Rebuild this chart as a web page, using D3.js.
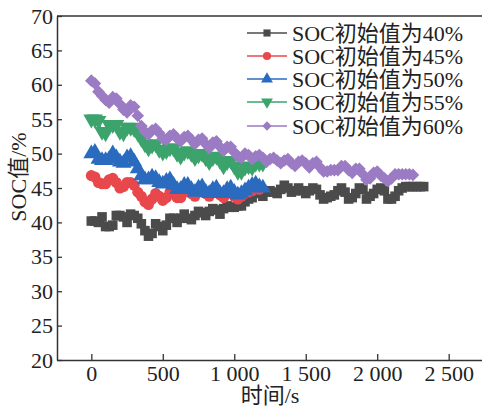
<!DOCTYPE html>
<html>
<head>
<meta charset="utf-8">
<script src="https://cdn.jsdelivr.net/npm/d3@7"></script>
<style>
  body { margin: 0; background: #fff; }
  text { font-family: "Liberation Serif", "Times New Roman", "Noto Sans CJK SC", serif; fill: #222; }
</style>
</head>
<body>
<svg id="chart" width="482" height="408"></svg>
<script>
// sampling step of the recorded SOC curves (s)
var step = 25;

var seriesNames = ["SOC初始值为40%", "SOC初始值为45%", "SOC初始值为50%", "SOC初始值为55%", "SOC初始值为60%"];
var colors = ["#4b4b4b", "#e8474c", "#2a6bbf", "#3ba36b", "#9b7bc3"];

// SOC values (%) every 25 s, starting at t = 0
var soc40 = [
  40.2, 40.2, 40.0, 40.8, 39.4, 39.4, 39.6, 41.0, 41.0, 40.8, 40.0, 41.2,
  41.0, 40.6, 39.8, 38.8, 38.0, 38.4, 39.8, 39.4, 38.8, 39.6, 40.6, 40.6,
  40.0, 40.6, 41.2, 40.6, 40.4, 41.0, 41.6, 41.4, 41.0, 41.6, 42.0, 41.8,
  41.2, 42.0, 42.4, 42.2, 42.2, 42.4, 42.4, 43.0, 43.4, 43.6, 44.4, 44.2,
  43.8, 44.4, 44.6, 44.4, 44.2, 44.8, 45.4, 45.0, 44.4, 44.6, 45.0, 44.6,
  44.2, 44.6, 45.0, 44.8, 44.0, 43.4, 43.6, 43.8, 44.0, 44.6, 45.0, 44.4,
  43.4, 43.6, 44.2, 45.0, 44.8, 43.4, 43.8, 44.2, 44.8, 45.0, 44.6, 43.4,
  43.4, 43.8, 44.6, 45.0, 45.2, 45.2, 45.2, 45.2, 45.2, 45.2
];
var soc45 = [
  46.8, 46.6, 45.8, 45.6, 45.6, 46.2, 46.4, 45.8, 45.0, 45.2, 45.8, 45.8,
  45.4, 44.4, 43.8, 43.0, 42.6, 43.4, 44.2, 43.8, 43.2, 43.6, 44.4, 44.2,
  43.6, 43.6, 44.4, 44.6, 44.2, 43.8, 44.4, 44.6, 44.2, 43.8, 44.4, 44.6,
  44.0, 43.6, 44.2, 44.4, 43.8, 43.4, 43.8, 44.2, 44.4, 44.6, 45.0, 44.8
];
var soc50 = [
  50.0, 50.2, 49.2, 49.0, 49.0, 49.2, 50.0, 49.4, 48.8, 48.6, 49.4, 49.6,
  48.8, 47.8, 46.8, 46.2, 46.2, 46.6, 46.4, 45.8, 45.6, 46.0, 46.2, 45.4,
  44.8, 44.8, 45.4, 45.4, 44.8, 44.4, 45.0, 45.2, 44.4, 44.2, 44.8, 45.0,
  44.2, 44.2, 44.8, 45.0, 44.4, 44.0, 44.2, 44.6, 45.0, 45.4, 45.6, 45.2, 45.0
];
var soc55 = [
  55.0, 55.0, 54.8, 53.2, 53.0, 54.2, 54.2, 54.2, 53.2, 53.0, 53.8, 53.8,
  53.6, 53.0, 52.2, 51.4, 50.8, 51.2, 51.4, 50.6, 50.2, 50.4, 50.8, 50.8,
  50.0, 49.6, 50.2, 50.4, 50.0, 49.4, 49.8, 50.0, 49.4, 48.8, 49.4, 49.6,
  49.0, 48.2, 48.8, 49.0, 48.2, 47.4, 47.4, 48.0, 48.2, 48.0, 48.6, 48.6, 48.6
];
var soc60 = [
  60.6, 60.2, 59.0, 58.4, 57.8, 57.4, 58.2, 58.0, 57.2, 56.4, 56.0, 57.0,
  56.8, 55.5, 54.0, 53.2, 52.8, 53.4, 53.6, 53.0, 52.2, 52.0, 52.6, 52.8,
  52.2, 51.8, 52.4, 52.6, 52.0, 51.4, 52.0, 52.2, 51.4, 50.8, 51.6, 51.8,
  51.0, 50.4, 51.0, 51.0, 50.2, 49.6, 49.4, 50.0, 49.8, 49.2, 49.6, 49.8,
  49.4, 48.8, 49.2, 49.4, 49.0, 48.6, 49.0, 49.2, 48.6, 48.2, 48.8, 49.0,
  48.6, 48.0, 48.6, 48.8, 48.0, 47.4, 47.4, 47.6, 47.6, 47.6, 48.2, 48.2,
  47.6, 47.2, 47.8, 47.8, 47.0, 46.2, 46.4, 47.2, 47.4, 46.8, 46.4, 46.0,
  46.4, 47.0, 47.0, 47.0, 47.0, 47.0, 46.9
];

var xTicks = [0, 500, 1000, 1500, 2000, 2500];
var yTicks = [20, 25, 30, 35, 40, 45, 50, 55, 60, 65, 70];

var allSeries = [soc40, soc45, soc50, soc55, soc60];

var svg = d3.select("#chart");
var mLeft = 57, mTop = 16, mBottom = 360, mRight = 483;
var fontSize = 22;

var x = d3.scaleLinear().domain([-240, 2740]).range([mLeft, mRight]);
var y = d3.scaleLinear().domain([20, 70]).range([mBottom, mTop]);

var fmt = d3.formatLocale({decimal: ".", thousands: " ", grouping: [3], currency: ["", ""]}).format(",");

// marker shapes: square, circle, triangle up, triangle down, diamond
var shapes = [
  {type: d3.symbolSquare, size: 92, rot: 0},
  {type: d3.symbolCircle, size: 95, rot: 0},
  {type: d3.symbolTriangle, size: 110, rot: 0},
  {type: d3.symbolTriangle, size: 110, rot: 180},
  {type: d3.symbolSquare, size: 80, rot: 45}
];

// axes
var xAxis = svg.append("g")
    .attr("transform", "translate(0," + mBottom + ")")
    .call(d3.axisBottom(x).tickValues(xTicks).tickFormat(fmt).tickSize(-6).tickSizeOuter(0).tickPadding(5));
var yAxis = svg.append("g")
    .attr("transform", "translate(" + mLeft + ",0)")
    .call(d3.axisLeft(y).tickValues(yTicks).tickSize(-5).tickSizeOuter(0).tickPadding(4));

[xAxis, yAxis].forEach(function (a) {
    a.selectAll("text").attr("font-size", fontSize).attr("fill", "#222")
        .style("font-family", '"Liberation Serif","Times New Roman",serif');
    a.selectAll("line").attr("stroke", "#333").attr("stroke-width", 1.3);
    a.select(".domain").attr("stroke", "#333").attr("stroke-width", 1.5);
});

svg.append("line")
    .attr("x1", mLeft).attr("x2", 482).attr("y1", mTop).attr("y2", mTop)
    .attr("stroke", "#333").attr("stroke-width", 1.5);

// series
var line = d3.line()
    .x(function (d, i) { return x(i * step); })
    .y(function (d) { return y(d); });

allSeries.forEach(function (vals, k) {
    var g = svg.append("g");
    g.append("path")
        .datum(vals)
        .attr("fill", "none")
        .attr("stroke", colors[k])
        .attr("stroke-width", 1.2)
        .attr("d", line);
    var sym = d3.symbol().type(shapes[k].type).size(shapes[k].size);
    g.selectAll("path.pt")
        .data(vals)
        .join("path")
        .attr("class", "pt")
        .attr("d", sym)
        .attr("fill", colors[k])
        .attr("transform", function (d, i) {
            return "translate(" + x(i * step) + "," + y(d) + ") rotate(" + shapes[k].rot + ")";
        });
});

// legend
var legend = svg.append("g");
var rowY = [33, 56, 79, 102, 126];
seriesNames.forEach(function (name, k) {
    var row = legend.append("g").attr("transform", "translate(0," + rowY[k] + ")");
    row.append("line")
        .attr("x1", 247).attr("x2", 287)
        .attr("stroke", colors[k]).attr("stroke-width", 1.3);
    row.append("path")
        .attr("d", d3.symbol().type(shapes[k].type).size(shapes[k].size * 0.55)())
        .attr("fill", colors[k])
        .attr("transform", "translate(267,0) rotate(" + shapes[k].rot + ")");
    row.append("text")
        .attr("x", 292).attr("dy", "0.35em")
        .attr("font-size", fontSize)
        .text(name);
});

// axis titles
svg.append("text")
    .attr("x", 270).attr("y", 403)
    .attr("text-anchor", "middle")
    .attr("font-size", fontSize)
    .text("时间/s");

svg.append("text")
    .attr("transform", "translate(26,177) rotate(-90)")
    .attr("text-anchor", "middle")
    .attr("font-size", fontSize)
    .text("SOC值/%");
</script>
</body>
</html>
